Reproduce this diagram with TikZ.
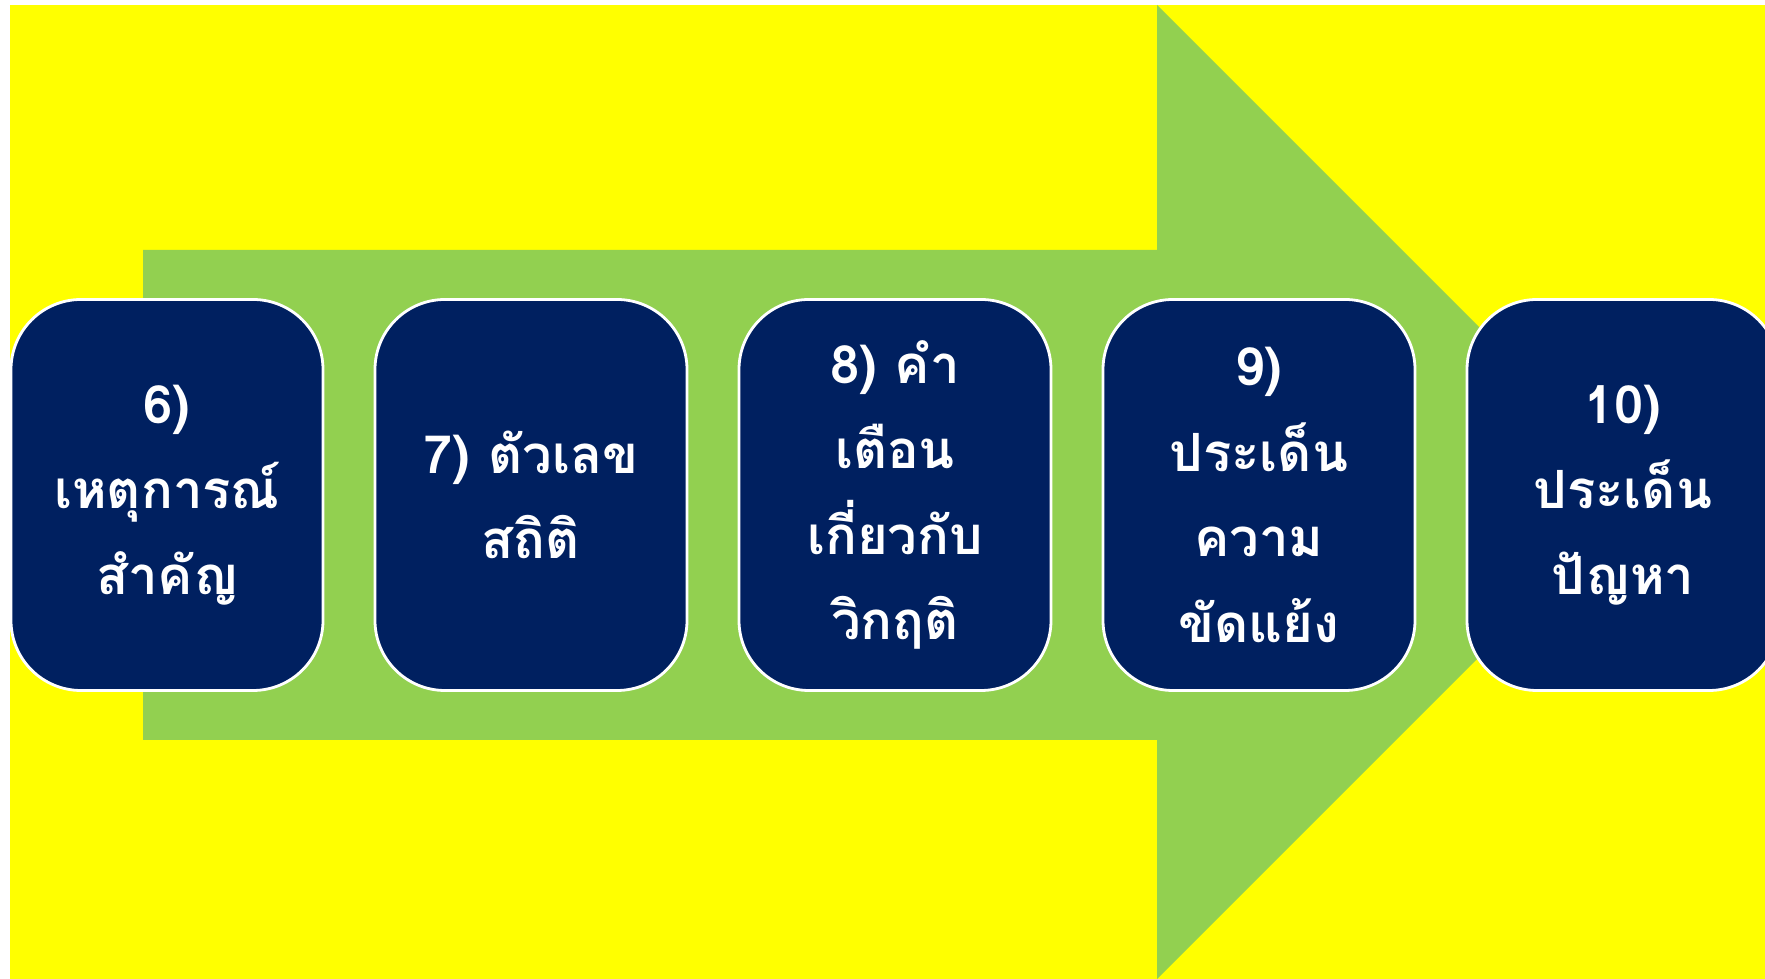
\documentclass[tikz,border=0pt]{standalone}
\usepackage{fontspec}
\newfontfamily\thaifont[Script=Thai]{Loma}
\definecolor{bgyellow}{HTML}{FFFF00}
\definecolor{arrowgreen}{HTML}{92D050}
\definecolor{boxnavy}{HTML}{002060}
\begin{document}
\begin{tikzpicture}
                \tikzstyle{stepbox}=[rectangle,rounded corners=1.4cm,draw=white,line width=1.6pt,fill=boxnavy,text=white,minimum width=6.24cm,minimum height=7.82cm,inner sep=0pt,align=center,font=\thaifont\bfseries\fontsize{30}{48.7}\selectfont]
                \useasboundingbox (0,0) rectangle (35.3,19.58);
                \clip (0,0) rectangle (35.3,19.58);
                \fill[bgyellow] (0.2,0) rectangle (35.3,19.48);
                % big arrow behind the steps
                \fill[arrowgreen] (2.86,4.78) -- (2.86,14.58) -- (23.14,14.58) -- (23.14,19.48)
                        -- (32.88,9.74) -- (23.14,0) -- (23.14,4.78) -- cycle;
                \foreach \num/\x/\txt in {6/3.34/{6)\\เหตุการณ์\\สำคัญ}, 7/10.62/{7) ตัวเลข\\สถิติ},
                        8/17.90/{8) คำ\\เตือน\\เกี่ยวกับ\\วิกฤติ}, 9/25.18/{9)\\ประเด็น\\ความ\\ขัดแย้ง},
                        10/32.46/{10)\\ประเด็น\\ปัญหา}}
                        \node[stepbox] (V-\num) at (\x,9.68) {\txt};
            \end{tikzpicture}
\end{document}
